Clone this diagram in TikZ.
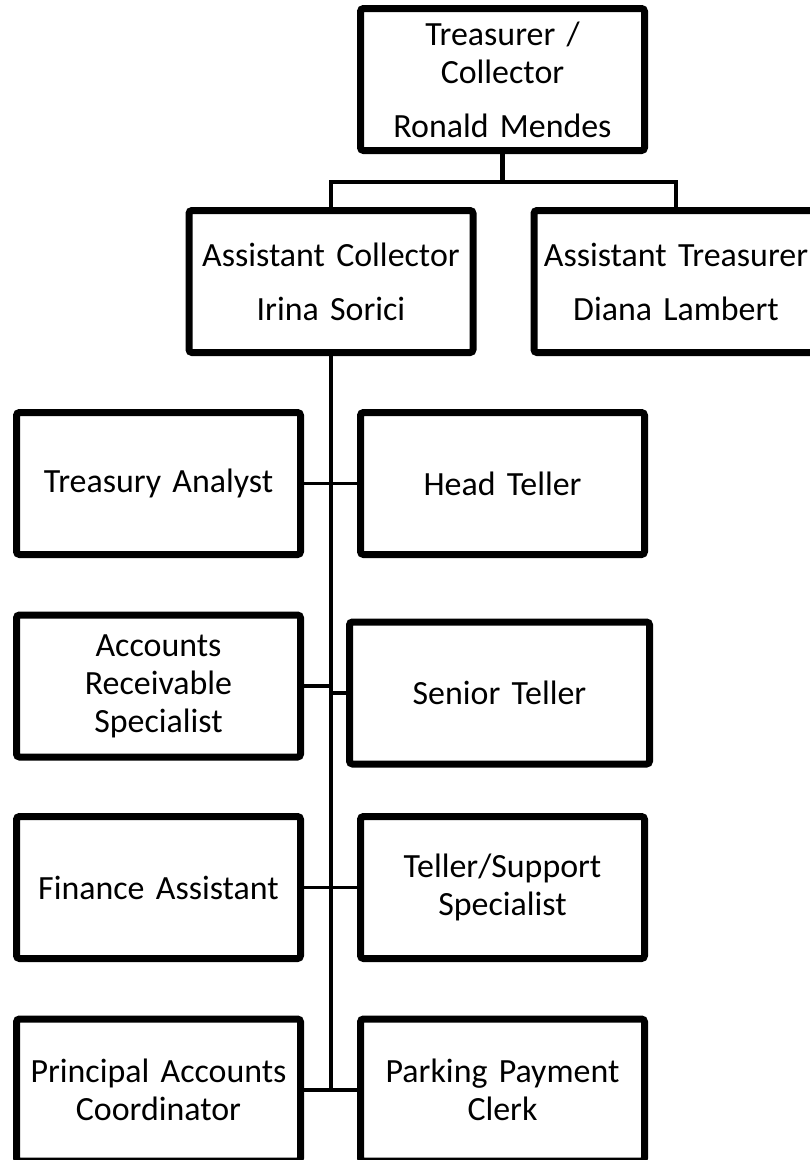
\documentclass[tikz,border=0pt]{standalone}
\usepackage{fontspec}
\setmainfont{Carlito}
\usetikzlibrary{shadows}
\begin{document}
\begin{tikzpicture}[x=1pt,y=-1pt,
  box/.style={draw=black, line width=7pt, fill=white, rounded corners=3pt,
    minimum width=284pt, minimum height=142pt, inner sep=0pt,
    align=center, text width=284pt,
    font=\fontsize{33.9}{38}\selectfont,
    drop shadow={opacity=0.18, shadow xshift=2pt, shadow yshift=-3pt}},
  bus/.style={line width=4.5pt},
  branch/.style={line width=3.5pt}]
\useasboundingbox (0,0) rectangle (810,1160);

% head of department
\node[box] (top) at (502.5,79.5) {Treasurer /\\Collector\\[16pt]Ronald Mendes};

% assistants
\node[box] (ac) at (331,281.5) {Assistant Collector\\[16pt]Irina Sorici};
\node[box] (at) at (676,281.5) {Assistant Treasurer\\[16pt]Diana Lambert};

% staff reporting to the assistant collector
\node[box] (ta) at (158.5,483.5) {Treasury Analyst};
\node[box] (ht) at (502.5,483.5) {Head Teller};
\node[box] (ar) at (158.5,686) {Accounts\\Receivable\\Specialist};
\node[box, minimum width=300pt] (st) at (499.5,693) {Senior Teller};
\node[box] (fa) at (158.5,887.5) {Finance Assistant};
\node[box] (ts) at (502.5,887.5) {Teller/Support\\Specialist};
\node[box] (pa) at (158.5,1090) {Principal Accounts\\Coordinator};
\node[box] (pp) at (502.5,1090) {Parking Payment\\Clerk};

% connectors from the top box
\coordinate (split) at (502.5,182);
\begin{scope}[on background layer/.try]
\end{scope}
\draw[bus] (top.south) -- (split);
\draw[bus] (ac.north) |- (split) -| (at.north);

% trunk under the assistant collector
\coordinate (trunkend) at (ac.south |- pa.east);
\draw[bus] (ac.south) -- (trunkend);

% branches to each staff box
\foreach \n in {ta,ar,fa,pa}
  \draw[branch] (\n.east) -- (\n.east -| ac.south);
\foreach \n in {ht,st,ts,pp}
  \draw[branch] (\n.west -| ac.south) -- (\n.west);
\end{tikzpicture}
\end{document}
